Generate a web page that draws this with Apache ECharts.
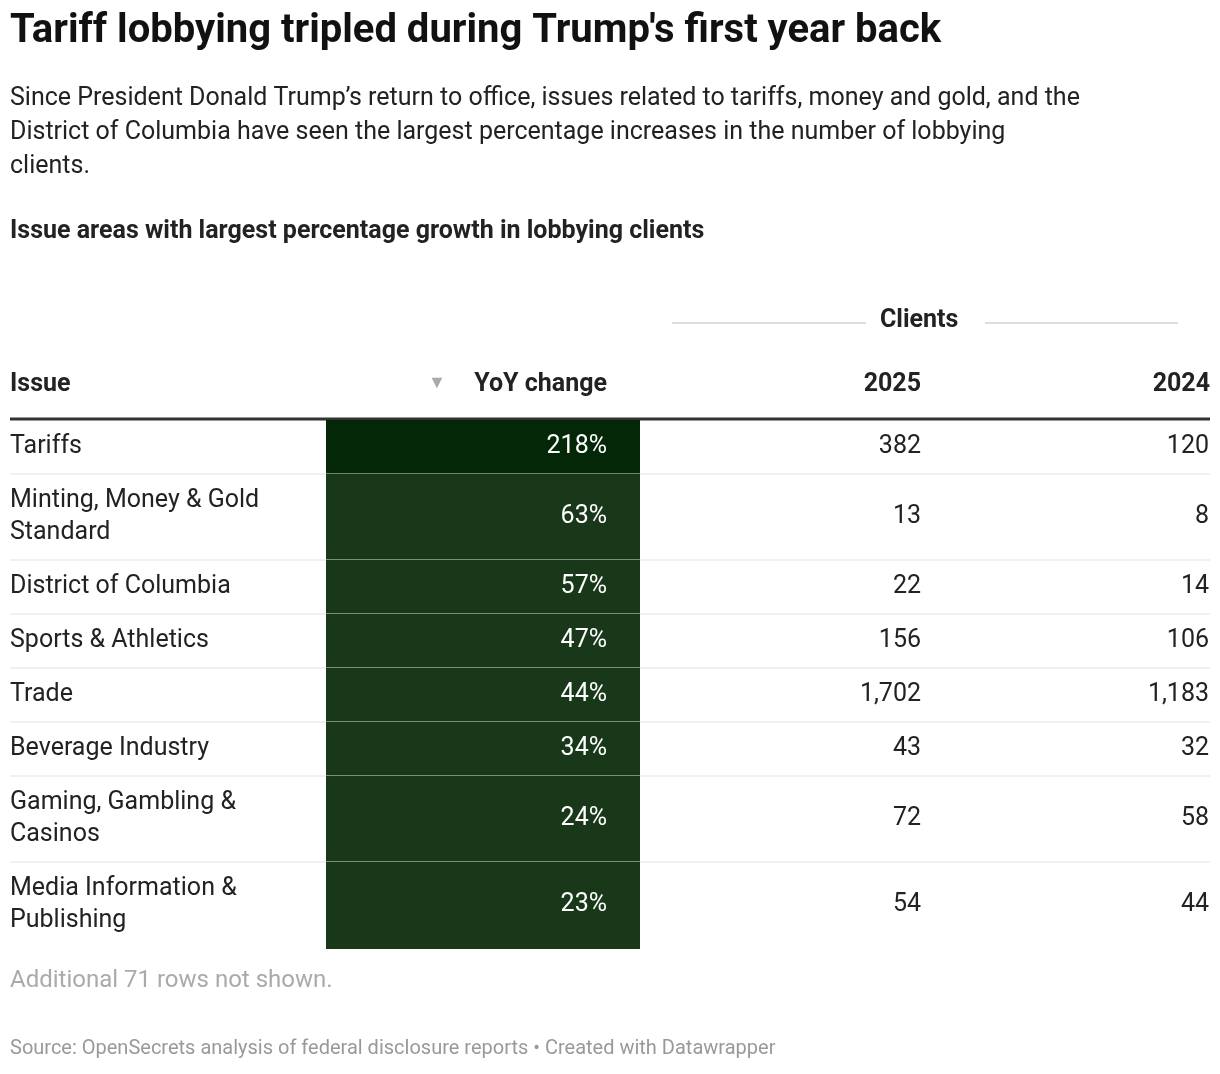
<!DOCTYPE html>
<html><head><meta charset="utf-8">
<script src="https://cdn.jsdelivr.net/npm/echarts@6/dist/echarts.min.js"></script>
<style>html,body{margin:0;background:#fff}#c{width:1220px;height:1074px}</style>
</head><body><div id="c"></div>
<script>
const issues = ["Tariffs","Minting, Money & Gold\nStandard","District of Columbia","Sports & Athletics","Trade","Beverage Industry","Gaming, Gambling &\nCasinos","Media Information &\nPublishing"];
const yoy = [218,63,57,47,44,34,24,23];
const clients2025 = [382,13,22,156,1702,43,72,54];
const clients2024 = [120,8,14,106,1183,32,58,44];
const rowUnits = issues.map(s => s.includes("\n") ? 86 : 54);
const starts = []; let acc = 0; rowUnits.forEach(h => { starts.push(acc); acc += h; });
const fmt = v => v.toLocaleString('en-US');
const F = 'Roboto, "Noto Sans", sans-serif';
const chart = echarts.init(document.getElementById('c'));
chart.setOption({
  animation:false,
  grid:{left:10,right:10,top:420,height:528},
  xAxis:{type:'value',min:0,max:1200,show:false},
  yAxis:{type:'value',min:0,max:acc,inverse:true,show:false},
  graphic:[
    {type:'text',left:10,top:12,style:{text:"Tariff lobbying tripled during Trump's first year back",font:'bold 40px '+F,fill:'#111'}},
    {type:'text',left:10,top:82,style:{text:"Since President Donald Trump’s return to office, issues related to tariffs, money and gold, and the\nDistrict of Columbia have seen the largest percentage increases in the number of lobbying\nclients.",font:'25px '+F,fill:'#222',lineHeight:34}},
    {type:'text',left:10,top:219,style:{text:"Issue areas with largest percentage growth in lobbying clients",font:'bold 25px '+F,fill:'#222'}},
    {type:'text',left:880,top:308,style:{text:"Clients",font:'bold 25px '+F,fill:'#222'}},
    {type:'line',shape:{x1:672,y1:323,x2:866,y2:323},style:{stroke:'#bbb',lineWidth:1}},
    {type:'line',shape:{x1:985,y1:323,x2:1178,y2:323},style:{stroke:'#bbb',lineWidth:1}},
    {type:'text',left:10,top:372,style:{text:"Issue",font:'bold 25px '+F,fill:'#222'}},
    {type:'text',left:428,top:374,style:{text:"▼",font:'18px '+F,fill:'#aaa'}},
    {type:'text',right:1220-607,top:372,style:{text:"YoY change",font:'bold 25px '+F,fill:'#222'}},
    {type:'text',right:1220-921,top:372,style:{text:"2025",font:'bold 25px '+F,fill:'#222'}},
    {type:'text',right:10,top:372,style:{text:"2024",font:'bold 25px '+F,fill:'#222'}},
    {type:'line',shape:{x1:10,y1:419,x2:1210,y2:419},style:{stroke:'#333',lineWidth:3}},
    {type:'text',left:10,top:969,style:{text:"Additional 71 rows not shown.",font:'24px '+F,fill:'#aaa'}},
    {type:'text',left:10,top:1039,style:{text:"Source: OpenSecrets analysis of federal disclosure reports • Created with Datawrapper",font:'20px '+F,fill:'#999'}}
  ],
  series:[{
    type:'custom',
    data:issues.map((s,i)=>[i]),
    renderItem:(params,api)=>{
      const i = api.value(0);
      const top = api.coord([0,starts[i]])[1];
      const bot = api.coord([0,starts[i]+rowUnits[i]])[1];
      const mid = (top+bot)/2;
      const ch = [
        {type:'rect',shape:{x:326,y:top,width:314,height:bot-top+1},style:{fill:i===0?'#032707':'#19381a'}},
        {type:'text',style:{text:issues[i],x:10,y:mid,verticalAlign:'middle',font:'25px '+F,fill:'#222',lineHeight:32}},
        {type:'text',style:{text:yoy[i]+'%',x:607,y:mid,align:'right',verticalAlign:'middle',font:'25px '+F,fill:'#fff'}},
        {type:'text',style:{text:fmt(clients2025[i]),x:921,y:mid,align:'right',verticalAlign:'middle',font:'25px '+F,fill:'#222'}},
        {type:'text',style:{text:fmt(clients2024[i]),x:1209,y:mid,align:'right',verticalAlign:'middle',font:'25px '+F,fill:'#222'}}
      ];
      if(i<issues.length-1) ch.push({type:'line',shape:{x1:10,y1:bot,x2:1210,y2:bot},style:{stroke:'#e2e2e2',lineWidth:1}});
      return {type:'group',children:ch};
    }
  }]
});
</script></body></html>
